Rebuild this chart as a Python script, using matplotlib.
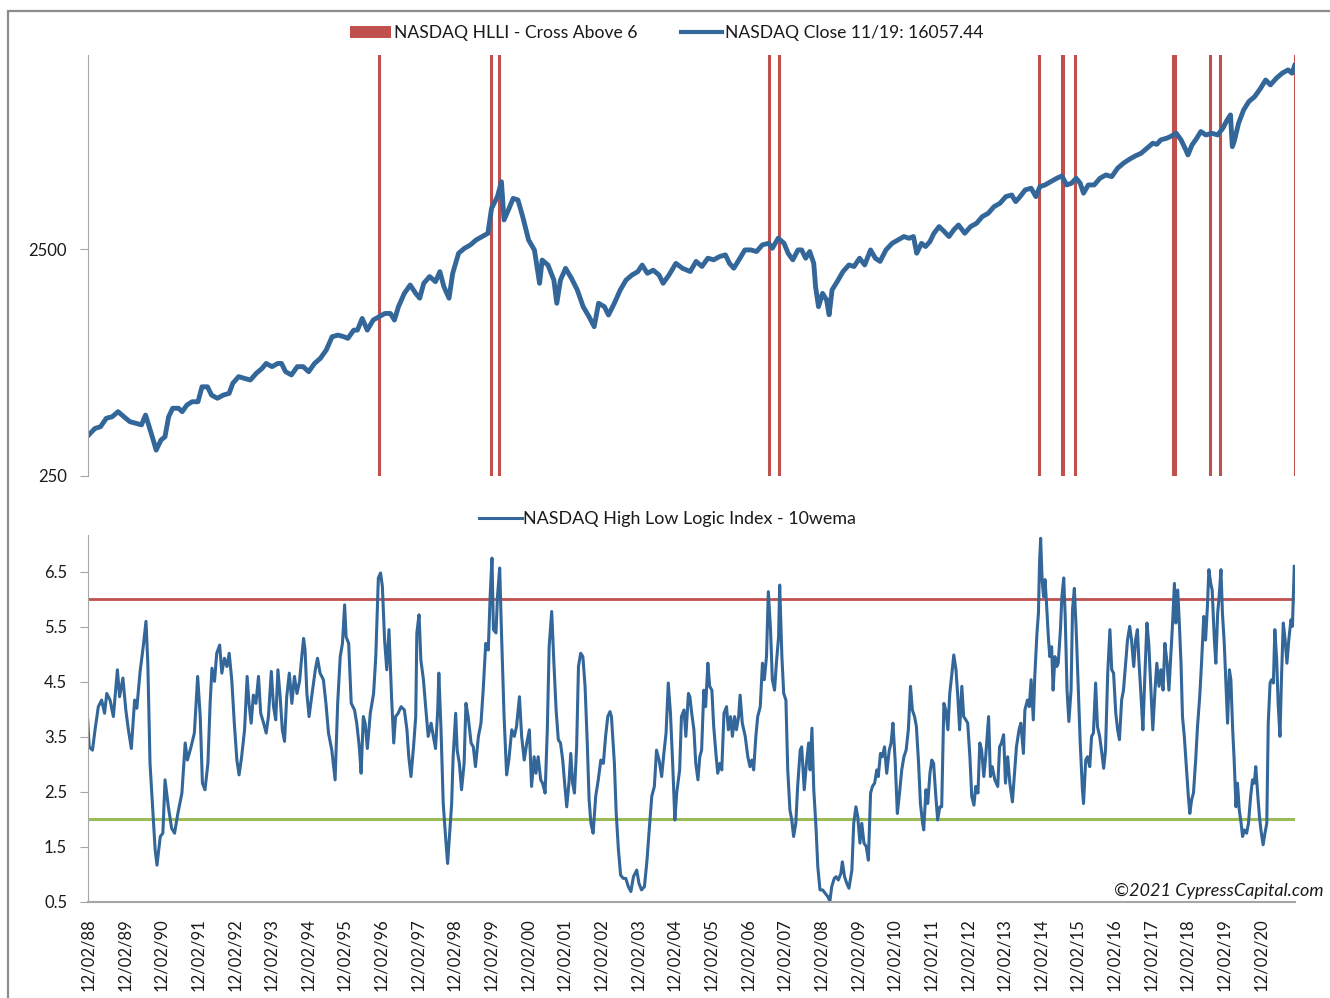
import matplotlib
matplotlib.use("Agg")
import matplotlib.pyplot as plt
from matplotlib.lines import Line2D
from matplotlib.patches import Patch, Rectangle

plt.rcParams['font.family'] = ['Lato', 'DejaVu Sans']

# NASDAQ weekly close, decimal years
price_years = [
    1988.89, 1989.11, 1989.26, 1989.42, 1989.58, 1989.74, 1989.90, 1990.06, 1990.22, 1990.38,
    1990.49, 1990.59, 1990.70, 1990.78, 1990.91, 1991.02, 1991.12, 1991.23, 1991.39, 1991.49,
    1991.62, 1991.76, 1991.92, 1992.03, 1992.18, 1992.29, 1992.45, 1992.61, 1992.77, 1992.87,
    1993.03, 1993.19, 1993.35, 1993.51, 1993.67, 1993.78, 1993.94, 1994.10, 1994.20, 1994.31,
    1994.47, 1994.63, 1994.79, 1994.94, 1995.10, 1995.26, 1995.42, 1995.58, 1995.74, 1995.90,
    1996.01, 1996.17, 1996.27, 1996.40, 1996.54, 1996.70, 1996.86, 1997.02, 1997.17, 1997.28,
    1997.39, 1997.55, 1997.71, 1997.86, 1997.97, 1998.08, 1998.24, 1998.40, 1998.52, 1998.63,
    1998.77, 1998.87, 1999.03, 1999.19, 1999.35, 1999.51, 1999.67, 1999.83, 1999.93, 2000.09,
    2000.20, 2000.27, 2000.39, 2000.52, 2000.65, 2000.78, 2000.94, 2001.10, 2001.24, 2001.31,
    2001.47, 2001.63, 2001.71, 2001.81, 2001.95, 2002.11, 2002.27, 2002.43, 2002.59, 2002.73,
    2002.85, 2003.01, 2003.12, 2003.28, 2003.44, 2003.60, 2003.76, 2003.92, 2004.04, 2004.18,
    2004.34, 2004.50, 2004.61, 2004.77, 2004.96, 2005.14, 2005.35, 2005.51, 2005.67, 2005.83,
    2005.99, 2006.15, 2006.31, 2006.42, 2006.54, 2006.68, 2006.84, 2007.00, 2007.16, 2007.32,
    2007.49, 2007.59, 2007.75, 2007.91, 2008.02, 2008.15, 2008.29, 2008.39, 2008.50, 2008.61,
    2008.72, 2008.77, 2008.85, 2008.96, 2009.07, 2009.14, 2009.22, 2009.36, 2009.52, 2009.68,
    2009.82, 2009.97, 2010.11, 2010.27, 2010.40, 2010.53, 2010.69, 2010.86, 2011.02, 2011.18,
    2011.32, 2011.44, 2011.53, 2011.66, 2011.77, 2011.89, 2012.00, 2012.14, 2012.28, 2012.41,
    2012.54, 2012.67, 2012.84, 2013.00, 2013.16, 2013.32, 2013.48, 2013.64, 2013.80, 2013.96,
    2014.12, 2014.23, 2014.35, 2014.49, 2014.65, 2014.78, 2014.89, 2015.03, 2015.19, 2015.35,
    2015.49, 2015.62, 2015.75, 2015.88, 2015.99, 2016.08, 2016.21, 2016.37, 2016.53, 2016.69,
    2016.85, 2017.01, 2017.17, 2017.33, 2017.49, 2017.65, 2017.81, 2017.97, 2018.08, 2018.19,
    2018.35, 2018.45, 2018.61, 2018.74, 2018.85, 2018.93, 2019.04, 2019.17, 2019.28, 2019.42,
    2019.58, 2019.74, 2019.88, 2020.00, 2020.09, 2020.14, 2020.19, 2020.31, 2020.45, 2020.59,
    2020.75, 2020.91, 2021.05, 2021.18, 2021.34, 2021.50, 2021.66, 2021.77, 2021.84,
]
price_close = [
    372, 405, 412, 449, 456, 480, 456, 434, 427, 420,
    464, 412, 360, 325, 360, 372, 456, 497, 497, 480,
    514, 531, 531, 618, 618, 568, 550, 568, 578, 640,
    685, 673, 662, 708, 745, 783, 758, 783, 783, 720,
    697, 758, 758, 720, 783, 825, 897, 1027, 1044, 1027,
    1010, 1098, 1098, 1236, 1098, 1216, 1258, 1300, 1300, 1216,
    1392, 1594, 1735, 1594, 1518, 1765, 1890, 1795, 1987, 1706,
    1518, 1954, 2394, 2517, 2604, 2741, 2834, 2930, 3778, 4250,
    4946, 3357, 3716, 4178, 4110, 3470, 2741, 2473, 1765, 2235,
    2124, 1825, 1442, 1825, 2055, 1857, 1649, 1392, 1258, 1137,
    1442, 1392, 1280, 1442, 1649, 1825, 1920, 1987, 2124, 1954,
    2017, 1920, 1765, 1920, 2161, 2055, 1990, 2204, 2094, 2277,
    2240, 2315, 2355, 2162, 2057, 2240, 2477, 2477, 2437, 2608,
    2649, 2519, 2788, 2649, 2395, 2240, 2477, 2477, 2277, 2437,
    2162, 1706, 1393, 1594, 1491, 1283, 1651, 1796, 1990, 2127,
    2094, 2277, 2127, 2477, 2277, 2204, 2477, 2649, 2742, 2837,
    2788, 2837, 2395, 2649, 2564, 2696, 2933, 3138, 2985, 2837,
    3036, 3190, 2933, 3138, 3243, 3473, 3592, 3844, 3973, 4253,
    4325, 4042, 4253, 4554, 4631, 4253, 4710, 4788, 4955, 5124,
    5244, 4788, 4870, 5124, 4870, 4404, 4788, 4788, 5124, 5300,
    5210, 5670, 5970, 6210, 6424, 6600, 6950, 7310, 7230, 7566,
    7690, 7820, 8090, 7566, 6950, 6490, 7180, 7690, 8230, 7950,
    8090, 7950, 8510, 9265, 9750, 7060, 7430, 8950, 10260, 11150,
    11730, 12760, 13890, 13210, 14130, 14870, 15380, 14870, 16057.44,
]

# NASDAQ High Low Logic Index, 10 week EMA
hlli_years = [
    1988.91, 1988.95, 1989.04, 1989.11, 1989.20, 1989.29, 1989.37, 1989.43, 1989.52, 1989.61,
    1989.72, 1989.78, 1989.87, 1989.95, 1990.02, 1990.10, 1990.19, 1990.25, 1990.34, 1990.43,
    1990.50, 1990.55, 1990.61, 1990.68, 1990.75, 1990.80, 1990.89, 1990.96, 1991.02, 1991.11,
    1991.20, 1991.28, 1991.37, 1991.48, 1991.57, 1991.63, 1991.73, 1991.82, 1991.91, 1991.98,
    1992.04, 1992.11, 1992.19, 1992.25, 1992.30, 1992.37, 1992.43, 1992.51, 1992.57, 1992.64,
    1992.71, 1992.77, 1992.84, 1992.91, 1992.98, 1993.04, 1993.11, 1993.19, 1993.26, 1993.31,
    1993.37, 1993.43, 1993.50, 1993.57, 1993.63, 1993.71, 1993.78, 1993.84, 1993.92, 1993.98,
    1994.04, 1994.10, 1994.16, 1994.22, 1994.28, 1994.34, 1994.41, 1994.48, 1994.55, 1994.62,
    1994.69, 1994.75, 1994.80, 1994.84, 1994.89, 1994.95, 1995.02, 1995.12, 1995.18, 1995.25,
    1995.34, 1995.41, 1995.48, 1995.57, 1995.66, 1995.73, 1995.80, 1995.86, 1995.92, 1995.96,
    1996.03, 1996.10, 1996.19, 1996.25, 1996.32, 1996.37, 1996.43, 1996.48, 1996.54, 1996.62,
    1996.71, 1996.77, 1996.84, 1996.90, 1996.95, 1997.01, 1997.07, 1997.13,
    1997.20, 1997.26, 1997.31, 1997.38, 1997.46, 1997.55, 1997.62, 1997.67, 1997.73, 1997.80,
    1997.86, 1997.89, 1997.95, 1998.00, 1998.07, 1998.13, 1998.20, 1998.28, 1998.34, 1998.40,
    1998.46, 1998.49, 1998.55, 1998.61, 1998.68, 1998.73, 1998.79, 1998.84, 1998.88, 1998.95,
    1998.99, 1999.05, 1999.11, 1999.18, 1999.23, 1999.29, 1999.37, 1999.43, 1999.49, 1999.57,
    1999.64, 1999.70, 1999.77, 1999.84, 1999.89, 1999.94, 1999.98, 2000.05, 2000.09, 2000.15,
    2000.20, 2000.27, 2000.34, 2000.40, 2000.48, 2000.55, 2000.61, 2000.69, 2000.75, 2000.82,
    2000.89, 2000.96, 2001.02, 2001.09, 2001.14, 2001.20, 2001.27, 2001.32, 2001.39, 2001.45,
    2001.50, 2001.57, 2001.63, 2001.69, 2001.75, 2001.81, 2001.87, 2001.93, 2001.98, 2002.04,
    2002.09, 2002.14, 2002.19, 2002.25, 2002.30, 2002.36, 2002.42, 2002.48, 2002.54, 2002.59,
    2002.64, 2002.70, 2002.77, 2002.84, 2002.91, 2002.98, 2003.04, 2003.10, 2003.16, 2003.20,
    2003.28, 2003.33, 2003.39, 2003.45, 2003.52, 2003.59, 2003.66, 2003.73, 2003.80, 2003.89,
    2003.95, 2004.02, 2004.10, 2004.17, 2004.23, 2004.30, 2004.37, 2004.43, 2004.50, 2004.57,
    2004.63, 2004.69, 2004.75, 2004.81, 2004.87, 2004.93, 2004.98, 2005.06, 2005.11, 2005.18,
    2005.23, 2005.30,
    2005.34, 2005.39, 2005.45, 2005.50, 2005.56, 2005.61, 2005.66, 2005.72, 2005.77, 2005.83,
    2005.88, 2005.94, 2005.99, 2006.05, 2006.10, 2006.16, 2006.21, 2006.27, 2006.34, 2006.39,
    2006.45, 2006.50, 2006.56, 2006.61, 2006.67, 2006.71, 2006.77, 2006.85, 2006.92, 2006.98,
    2007.03, 2007.08, 2007.14, 2007.19, 2007.26, 2007.32, 2007.37, 2007.43, 2007.48, 2007.54,
    2007.59, 2007.65, 2007.70, 2007.76, 2007.79, 2007.85, 2007.90, 2007.96, 2008.01, 2008.07,
    2008.12, 2008.17, 2008.23, 2008.28, 2008.35, 2008.39, 2008.46, 2008.52, 2008.58, 2008.62,
    2008.67, 2008.72, 2008.78, 2008.83, 2008.89, 2008.96, 2009.03, 2009.10, 2009.16, 2009.21,
    2009.28, 2009.33, 2009.39, 2009.46, 2009.50, 2009.56, 2009.62, 2009.68, 2009.76, 2009.81,
    2009.87, 2009.92, 2009.98, 2010.03, 2010.09, 2010.15, 2010.21, 2010.27, 2010.32, 2010.38,
    2010.44, 2010.48, 2010.54, 2010.59, 2010.65, 2010.71, 2010.78, 2010.83, 2010.88, 2010.94,
    2011.00, 2011.06, 2011.12, 2011.18, 2011.24, 2011.30, 2011.36, 2011.41, 2011.47, 2011.52,
    2011.58, 2011.63, 2011.69, 2011.72, 2011.78, 2011.83, 2011.89, 2011.94, 2011.99, 2012.05,
    2012.10, 2012.16, 2012.21, 2012.27, 2012.32, 2012.38, 2012.43, 2012.49, 2012.54, 2012.60,
    2012.65, 2012.70, 2012.76, 2012.81, 2012.87, 2012.92, 2012.98, 2013.03, 2013.09, 2013.14,
    2013.20, 2013.25, 2013.30, 2013.36, 2013.41, 2013.49,
    2013.54, 2013.59, 2013.66, 2013.74, 2013.79, 2013.84, 2013.90, 2013.95, 2014.01, 2014.07,
    2014.14, 2014.19, 2014.25, 2014.32, 2014.37, 2014.44, 2014.48, 2014.55, 2014.60, 2014.65,
    2014.71, 2014.75, 2014.81, 2014.85, 2014.88, 2014.91, 2014.95, 2014.99, 2015.03, 2015.07,
    2015.12, 2015.16, 2015.21, 2015.25, 2015.30, 2015.35, 2015.39, 2015.45, 2015.49, 2015.54,
    2015.58, 2015.63, 2015.68, 2015.74, 2015.78, 2015.83, 2015.88, 2015.94, 2015.99, 2016.05,
    2016.08, 2016.14, 2016.19, 2016.25, 2016.30, 2016.35, 2016.41, 2016.46, 2016.52, 2016.57,
    2016.63, 2016.68, 2016.74, 2016.80, 2016.85, 2016.90, 2016.96, 2017.01, 2017.06, 2017.12,
    2017.17, 2017.23, 2017.28, 2017.34, 2017.39, 2017.45, 2017.50, 2017.55, 2017.59, 2017.65,
    2017.70, 2017.76, 2017.81, 2017.86, 2017.92, 2017.97, 2018.03, 2018.08, 2018.14, 2018.19,
    2018.25, 2018.30, 2018.36, 2018.41, 2018.47, 2018.51, 2018.56, 2018.60, 2018.65, 2018.69,
    2018.74, 2018.78, 2018.83, 2018.88, 2018.94, 2018.98, 2019.03, 2019.08, 2019.14, 2019.19,
    2019.25, 2019.30, 2019.36, 2019.41, 2019.46, 2019.50, 2019.55, 2019.59, 2019.65, 2019.69,
    2019.74, 2019.78, 2019.83, 2019.87, 2019.92, 2019.97, 2020.01, 2020.06, 2020.10, 2020.15,
    2020.19, 2020.24, 2020.28, 2020.33, 2020.38, 2020.42, 2020.47, 2020.53, 2020.58, 2020.64,
    2020.69, 2020.74, 2020.78, 2020.83, 2020.88, 2020.92, 2020.98, 2021.03, 2021.08, 2021.12,
    2021.17, 2021.21, 2021.26, 2021.30, 2021.35, 2021.39, 2021.44, 2021.48, 2021.53, 2021.58,
    2021.63, 2021.68, 2021.74, 2021.78, 2021.83,
]
hlli_values = [
    3.81, 3.32, 3.26, 3.63, 4.05, 4.17, 3.93, 4.29, 4.17, 3.87,
    4.72, 4.23, 4.57, 3.99, 3.63, 3.29, 4.17, 4.02, 4.69, 5.17,
    5.60, 4.84, 3.02, 2.23, 1.45, 1.17, 1.69, 1.75, 2.72, 2.23,
    1.84, 1.75, 2.11, 2.48, 3.39, 3.08, 3.32, 3.57, 4.60, 3.87,
    2.66, 2.54, 3.02, 4.11, 4.75, 4.51, 5.02, 5.17, 4.66, 4.93,
    4.78, 5.02, 4.54, 3.75, 3.08, 2.81, 3.14, 3.63, 4.60, 4.11,
    3.75, 4.26, 4.11, 4.60, 3.93, 3.75, 3.57, 3.87, 4.69, 4.05,
    3.81, 4.72, 4.23, 3.63, 3.42, 4.23, 4.66, 4.11, 4.60, 4.29,
    4.51, 4.96, 5.29, 5.08, 4.29, 3.87, 4.23, 4.72, 4.93, 4.66,
    4.54, 4.11, 3.57, 3.26, 2.72, 4.11, 4.96, 5.20, 5.90, 5.32,
    5.20, 4.11, 3.99, 3.75, 3.32, 2.84, 3.87, 3.75, 3.29, 3.93,
    4.29, 4.96, 6.39, 6.48, 6.23, 5.26, 4.72, 5.45,
    4.23, 3.39, 3.87, 3.93, 4.05, 3.99, 3.63, 3.14, 2.78, 3.32,
    3.87, 5.39, 5.72, 4.90, 4.54, 4.05, 3.51, 3.75, 3.51, 3.29,
    3.99, 4.66, 3.63, 2.29, 1.63, 1.20, 1.81, 2.29, 3.14, 3.93,
    3.26, 3.02, 2.54, 3.02, 4.11, 3.87, 3.39, 3.32, 2.96, 3.51,
    3.75, 4.35, 5.20, 5.08, 6.05, 6.75, 5.45, 5.39, 6.05, 6.57,
    5.39, 3.87, 2.81, 3.08, 3.63, 3.51, 3.69, 4.23, 3.51, 3.08,
    3.39, 3.63, 2.60, 3.14, 2.84, 3.14, 2.72, 2.66, 2.48, 3.63,
    5.14, 5.78, 4.84, 3.99, 3.45, 3.39, 3.08, 2.60, 2.23, 2.66,
    3.20, 2.66, 2.48, 3.32, 4.78, 5.02, 4.96, 4.42, 3.39, 2.36,
    1.93, 1.75, 2.42, 2.72, 3.08, 3.02, 3.51, 3.87, 3.96, 3.87,
    3.02, 2.11, 1.45, 0.99, 0.93, 0.93, 0.78, 0.69, 0.96, 1.08,
    0.84, 0.72, 0.78, 1.26, 1.81, 2.42, 2.60, 3.26, 3.08, 2.78,
    3.20, 3.57, 4.48, 3.93, 3.02, 1.99, 2.48, 2.90, 3.87, 3.99,
    3.51, 4.29,
    4.23, 3.93, 3.63, 3.02, 2.72, 3.14, 3.26, 4.35, 4.05, 4.84,
    4.42, 4.35, 3.69, 3.20, 2.84, 3.02, 2.90, 3.93, 4.05, 3.63,
    3.87, 3.51, 3.87, 3.63, 3.87, 4.26, 3.75, 3.51, 3.14, 2.96,
    3.08, 2.90, 3.51, 3.87, 4.05, 4.84, 4.54, 4.96, 6.14, 5.45,
    4.54, 4.35, 4.84, 5.32, 6.26, 4.96, 4.29, 4.17, 2.90, 2.17,
    1.99, 1.69, 1.93, 2.60, 3.26, 3.32, 2.54, 3.02, 3.39, 2.90,
    3.66, 2.54, 1.87, 1.14, 0.72, 0.72, 0.66, 0.60, 0.52, 0.78,
    0.93, 0.96, 0.90, 1.02, 1.23, 0.96, 0.84, 0.75, 1.08, 1.93,
    2.23, 2.05, 1.57, 1.93, 1.57, 1.51, 1.26, 2.48, 2.60, 2.66,
    2.90, 2.78, 3.20, 3.14, 3.32, 2.84, 3.26, 3.39, 3.75, 3.08,
    2.11, 2.48, 2.90, 3.14, 3.26, 3.63, 4.42, 3.99, 3.87, 3.69,
    3.02, 2.29, 1.93, 1.81, 2.54, 2.29, 2.84, 3.08, 3.02, 2.42,
    1.99, 2.23, 2.23, 4.11, 3.99, 3.63, 4.29, 4.66, 4.99, 4.72,
    4.23, 3.63, 4.42, 3.87, 3.81, 3.75, 3.14, 2.42, 2.26, 2.60,
    2.48, 3.39, 3.26, 2.78, 3.14, 3.87,
    2.78, 2.96, 2.72, 2.60, 3.32, 3.39, 3.54, 2.66, 3.14, 2.66,
    2.32, 2.78, 3.32, 3.63, 3.75, 3.20, 3.99, 4.17, 4.05, 4.54,
    3.81, 4.60, 5.39, 5.75, 6.66, 7.11, 6.36, 6.05, 6.36, 5.93,
    5.32, 4.96, 5.14, 4.35, 4.96, 4.78, 4.84, 5.45, 6.05, 6.39,
    5.69, 4.35, 3.78, 4.35, 5.81, 6.20, 5.45, 4.35, 3.39, 2.54,
    2.29, 3.08, 3.14, 2.96, 3.51, 3.57, 4.48, 3.69, 3.51, 3.26,
    2.93, 3.26, 4.66, 5.45, 4.72, 4.66, 3.93, 3.63, 3.45, 4.17,
    4.35, 4.84, 5.26, 5.51, 5.26, 4.78, 5.26, 5.45, 4.90, 4.23,
    3.63, 4.72, 5.57, 5.20, 4.35, 3.63, 4.35, 4.84, 4.42, 4.72,
    4.35, 5.20, 4.84, 4.35, 5.08, 5.57, 6.29, 5.57, 6.17, 5.63,
    4.84, 3.87, 3.51, 3.02, 2.42, 2.11, 2.36, 2.48, 3.08, 3.69,
    4.23, 4.84, 5.69, 5.26, 5.87, 6.54, 6.29, 6.17, 5.26, 4.84,
    5.75, 6.05, 6.54, 5.75, 5.20, 4.42, 3.75, 4.72, 4.54, 3.63,
    3.08, 2.23, 2.66, 2.17, 1.93, 1.69, 1.81, 1.75, 1.93, 2.42,
    2.72, 2.66, 2.96, 2.48, 2.05, 1.81, 1.54, 1.75, 1.93, 3.75,
    4.48, 4.54, 4.48, 5.45, 4.90, 4.11, 3.51, 4.54, 5.57, 5.26,
    4.84, 5.26, 5.63, 5.51, 6.60,
]

# weeks where the HLLI crossed above 6
signal_years = [1996.86, 1999.92, 2000.13, 2007.50, 2007.77, 2014.87, 2015.48, 2015.52,
                2015.85, 2018.52, 2018.55, 2018.58, 2019.53, 2019.81, 2021.84]
upper_level = 6.0
lower_level = 2.0

tick_labels = ["12/02/88", "12/02/89", "12/02/90", "12/02/91", "12/02/92", "12/02/93",
               "12/02/94", "12/02/95", "12/02/96", "12/02/97", "12/02/98", "12/02/99",
               "12/02/00", "12/02/01", "12/02/02", "12/02/03", "12/02/04", "12/02/05",
               "12/02/06", "12/02/07", "12/02/08", "12/02/09", "12/02/10", "12/02/11",
               "12/02/12", "12/02/13", "12/02/14", "12/02/15", "12/02/16", "12/02/17",
               "12/02/18", "12/02/19", "12/02/20"]
tick_years = [1988.918 + i for i in range(len(tick_labels))]

BLUE = '#336699'
RED = '#C0504D'
GREEN = '#9BBB59'
AXIS = '#A6A6A6'
TEXT = '#1A1A1A'

W, H = 1330, 998
fig = plt.figure(figsize=(W / 100, H / 100), dpi=100)

x0, x1 = 1988.92, 2021.85

# oben: Kurs (log)
ax1 = fig.add_axes([88 / W, 1 - 476 / H, 1207 / W, 421 / H])
for yr in signal_years:
    ax1.axvline(yr, color=RED, lw=2.2, zorder=1)
ax1.plot(price_years, price_close, color=BLUE, lw=3.5, zorder=2)
ax1.set_yscale('log')
ax1.set_ylim(250, 17890)
ax1.set_xlim(x0, x1)
ax1.set_yticks([250, 2500])
ax1.set_yticklabels(['250', '2500'])
ax1.minorticks_off()
ax1.set_xticks([])
for s in ['top', 'right', 'bottom']:
    ax1.spines[s].set_visible(False)
ax1.spines['left'].set_color(AXIS)
ax1.tick_params(axis='y', length=6, color=AXIS, labelsize=12, labelcolor=TEXT, pad=9)

# unten: HLLI
ax2 = fig.add_axes([88 / W, 1 - 902 / H, 1207 / W, 367 / H])
ax2.axhline(upper_level, color=RED, lw=2.0, zorder=1)
ax2.axhline(lower_level, color=GREEN, lw=2.2, zorder=1)
ax2.plot(hlli_years, hlli_values, color=BLUE, lw=2.2, zorder=2)
ax2.set_xlim(x0, x1)
ax2.set_ylim(0.5, 7.17)
ax2.set_yticks([0.5, 1.5, 2.5, 3.5, 4.5, 5.5, 6.5])
ax2.set_yticklabels(['0.5', '1.5', '2.5', '3.5', '4.5', '5.5', '6.5'])
ax2.set_xticks(tick_years)
ax2.set_xticklabels(tick_labels, rotation=90)
for s in ['top', 'right']:
    ax2.spines[s].set_visible(False)
ax2.spines['left'].set_color(AXIS)
ax2.spines['bottom'].set_color(AXIS)
ax2.spines['bottom'].set_linewidth(1.5)
ax2.tick_params(axis='y', length=6, color=AXIS, labelsize=12, labelcolor=TEXT, pad=9)
ax2.tick_params(axis='x', length=0, labelsize=12, labelcolor=TEXT, pad=12)

# Legenden
top_handles = [Patch(facecolor=RED, edgecolor='none'), Line2D([], [], color=BLUE, lw=3)]
fig.legend(top_handles, ['NASDAQ HLLI - Cross Above 6', 'NASDAQ Close 11/19: 16057.44'],
           loc='center', bbox_to_anchor=(0.5015, 1 - 33 / H), ncol=2, frameon=False,
           fontsize=12.6, handlelength=2.3, handletextpad=0.2, columnspacing=2.5,
           labelcolor=TEXT)
fig.legend([Line2D([], [], color=BLUE, lw=2.2)], ['NASDAQ High Low Logic Index - 10wema'],
           loc='center', bbox_to_anchor=(0.5015, 1 - 519 / H), frameon=False,
           fontsize=12.9, handlelength=2.4, handletextpad=0.05, labelcolor=TEXT)

fig.text(1323 / W, 1 - 891 / H, '\u00a92021 CypressCapital.com', ha='right', va='center',
         style='italic', fontsize=13, color=TEXT)

# Rahmen
fig.add_artist(Rectangle((8 / W, -0.05), 1.2, 1 - 11 / H + 0.05, transform=fig.transFigure,
                         fill=False, edgecolor='#8C8C8C', lw=1.6))

fig.savefig('out.png', dpi=100)
